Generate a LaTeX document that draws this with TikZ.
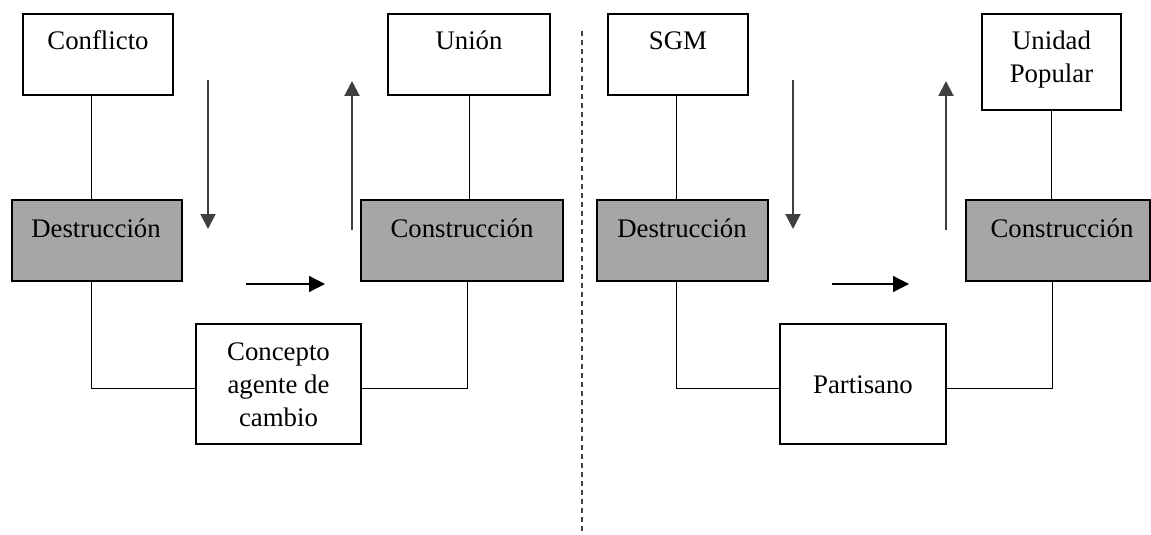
\documentclass[tikz,border=0pt]{standalone}
\usepackage{fontspec}
\setmainfont{Liberation Serif}
\usetikzlibrary{arrows.meta,calc}
\definecolor{boxgray}{HTML}{A6A6A6}
\definecolor{arrgray}{HTML}{404040}
\tikzset{
  box/.style={draw=black, line width=1pt, fill=white, inner sep=0pt},
  graybox/.style={box, fill=boxgray},
  txt/.style={inner sep=0pt, anchor=base, align=center, font=\fontsize{13.4pt}{16.5pt}\selectfont},
  conn/.style={draw=black, line width=0.5pt},
  varrow/.style={draw=arrgray, line width=1pt, -{Triangle[length=7.5pt,width=7.5pt]}},
  harrow/.style={draw=black, line width=0.6pt, -{Triangle[length=8pt,width=8pt]}},
  divider/.style={draw=arrgray, line width=0.8pt, dash pattern=on 2.5pt off 2pt}
}
\begin{document}
\begin{tikzpicture}[x=0.5pt,y=-0.5pt]
\useasboundingbox (0,0) rectangle (1151,535);
% ---- left half ----
\node[box, minimum width=75pt, minimum height=40.5pt] (conf) at (98,54.5) {};
\node[graybox, minimum width=85pt, minimum height=40.5pt] (dest1) at (97,240.5) {};
\node[box, minimum width=81pt, minimum height=40.5pt] (union) at (469,54.5) {};
\node[graybox, minimum width=101pt, minimum height=40.5pt] (cons1) at (462,240.5) {};
\node[box, minimum width=82.5pt, minimum height=60pt] (conc) at (278.5,384) {};
\node[txt] (tconf) at (98,50) {Conflicto};
\node[txt] (tdest1) at (96,237) {Destrucción};
\node[txt] (tunion) at (469,50) {Unión};
\node[txt] (tcons1) at (462,237) {Construcción};
\node[txt] (tconc) at (278.5,426) {Concepto\\agente de\\cambio};
% ---- right half ----
\node[box, minimum width=70pt, minimum height=40.5pt] (sgm) at (678,54.5) {};
\node[graybox, minimum width=85.5pt, minimum height=40.5pt] (dest2) at (682.5,240.5) {};
\node[box, minimum width=69.5pt, minimum height=48pt] (up) at (1051.5,62) {};
\node[graybox, minimum width=92pt, minimum height=40.5pt] (cons2) at (1058,240.5) {};
\node[box, minimum width=83pt, minimum height=60pt] (part) at (863,384) {};
\node[txt] (tsgm) at (678,50) {SGM};
\node[txt] (tdest2) at (682,237) {Destrucción};
\node[txt] (tup) at (1051.5,83) {Unidad\\Popular};
\node[txt] (tcons2) at (1062,237) {Construcción};
\node[txt] (tpart) at (863,393) {Partisano};
% ---- connectors ----
\draw[conn] ([xshift=-3.5pt]conf.south) -- ([xshift=-3pt]dest1.north);
\draw[conn] (union.south) -- (union.south |- cons1.north);
\draw[conn] ([xshift=-3pt]dest1.south) |- ([yshift=-2pt]conc.west);
\draw[conn] ([yshift=-2pt]conc.east) -| ([xshift=2.5pt]cons1.south);
\draw[conn] ([xshift=-1pt]sgm.south) -- ([xshift=-1pt]sgm.south |- dest2.north);
\draw[conn] (up.south) -- (up.south |- cons2.north);
\draw[conn] ([xshift=-3.25pt]dest2.south) |- ([yshift=-2pt]part.west);
\draw[conn] ([yshift=-2pt]part.east) -| ([xshift=-3pt]cons2.south);
% ---- free arrows ----
\coordinate (a1s) at (208,80);  \coordinate (a1e) at (208,229);
\coordinate (a2s) at (352,230); \coordinate (a2e) at (352,81);
\coordinate (a3s) at (246,284); \coordinate (a3e) at (325,284);
\coordinate (b1s) at (793,80);  \coordinate (b1e) at (793,229);
\coordinate (b2s) at (946,230); \coordinate (b2e) at (946,81);
\coordinate (b3s) at (832,284); \coordinate (b3e) at (909,284);
\draw[varrow] (a1s) -- (a1e);
\draw[varrow] (a2s) -- (a2e);
\draw[harrow] (a3s) -- (a3e);
\draw[varrow] (b1s) -- (b1e);
\draw[varrow] (b2s) -- (b2e);
\draw[harrow] (b3s) -- (b3e);
% ---- divider ----
\coordinate (d1) at (582,31); \coordinate (d2) at (582,532);
\draw[divider] (d1) -- (d2);
\end{tikzpicture}
\end{document}
